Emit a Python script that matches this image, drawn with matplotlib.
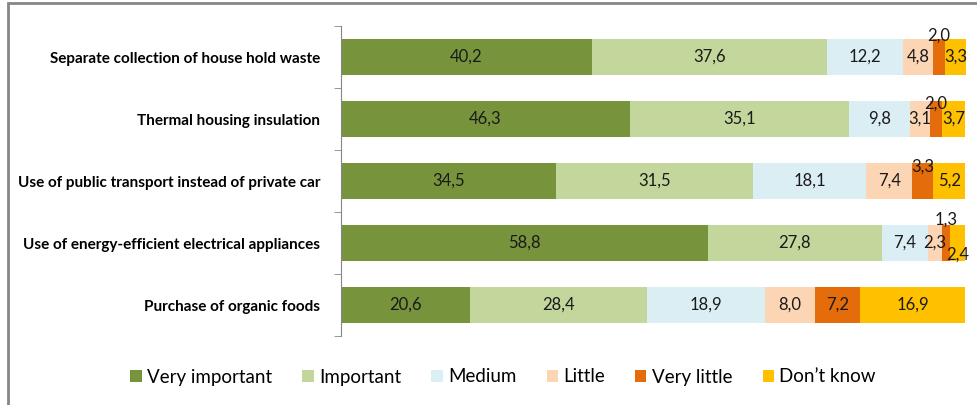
import matplotlib.pyplot as plt
from matplotlib.patches import Rectangle

categories = [
    "Separate collection of house hold waste",
    "Thermal housing insulation",
    "Use of public transport instead of private car",
    "Use of energy-efficient electrical appliances",
    "Purchase of organic foods",
]
series = ["Very important", "Important", "Medium", "Little", "Very little", "Don\u2019t know"]

very_important = [40.2, 46.3, 34.5, 58.8, 20.6]
important = [37.6, 35.1, 31.5, 27.8, 28.4]
medium = [12.2, 9.8, 18.1, 7.4, 18.9]
little = [4.8, 3.1, 7.4, 2.3, 8.0]
very_little = [2.0, 2.0, 3.3, 1.3, 7.2]
dont_know = [3.3, 3.7, 5.2, 2.4, 16.9]

values = [very_important, important, medium, little, very_little, dont_know]
colors = ["#77933C", "#C3D69B", "#DBEEF4", "#FCD5B5", "#E46C0A", "#FFC000"]

# labels that Excel pushed off the bar centre: (row, series) -> vertical shift
label_shift = {(0, 4): -0.35, (1, 4): -0.24, (2, 4): -0.23, (3, 4): -0.37, (3, 5): 0.18}

plt.rcParams['font.family'] = ['Lato', 'DejaVu Sans']

fig = plt.figure(figsize=(9.77, 4.05), dpi=100)
ax = fig.add_axes([341 / 977, 1 - 336 / 405, 625 / 977, 310 / 405])

# grey chart-area frame
fig.patches.append(Rectangle((8 / 977, -0.1), 1.2, 1.1 - 3 / 405, transform=fig.transFigure,
                             fill=False, edgecolor="#868686", linewidth=2))

ypos = list(range(len(categories)))
left = [0.0] * len(categories)
for s, name in enumerate(series):
    ax.barh(ypos, values[s], left=left, height=0.58, color=colors[s], label=name)
    for i, v in enumerate(values[s]):
        x = left[i] + v / 2
        y = i + label_shift.get((i, s), 0)
        ax.text(x, y, f"{v:.1f}".replace(".", ","), ha="center", va="center",
                fontsize=12, color="#1a1a1a")
    left = [l + v for l, v in zip(left, values[s])]

ax.set_xlim(0, 100.1)
ax.set_ylim(len(categories) - 0.5, -0.5)
ax.set_yticks(ypos)
ax.set_yticklabels(categories, fontsize=11, fontweight="bold")
ax.set_yticks([i + 0.5 for i in range(-1, len(categories))], minor=True)
ax.tick_params(axis="y", which="major", length=0, pad=15)
ax.tick_params(axis="y", which="minor", length=5, color="#868686")
ax.set_xticks([])
for sp in ["top", "right", "bottom"]:
    ax.spines[sp].set_visible(False)
ax.spines["left"].set_color("#868686")

fig.legend(loc="center", bbox_to_anchor=(0.515, 1 - 377 / 405), ncol=6, frameon=False,
           fontsize=13.5, handlelength=0.6, handleheight=0.6, handletextpad=0.3,
           columnspacing=1.6)

fig.savefig("out.png", dpi=100)
